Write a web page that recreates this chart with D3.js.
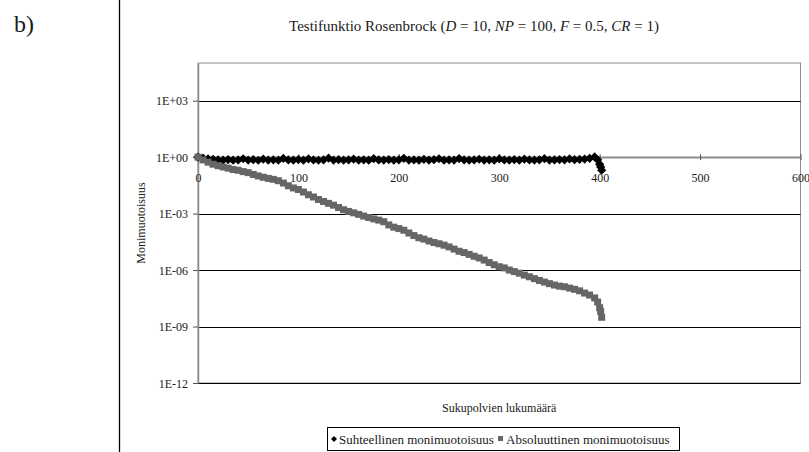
<!DOCTYPE html>
<html>
<head>
<meta charset="utf-8">
<script src="https://cdn.jsdelivr.net/npm/d3@7/dist/d3.min.js"></script>
<style>
  body { margin: 0; background: #fff; }
  svg { display: block; }
  text { font-family: "Liberation Serif", "Times New Roman", serif; fill: #1a1a1a; }
</style>
</head>
<body>
<svg id="chart" width="809" height="452"></svg>
<script>
// Generation numbers at which diversity was sampled
const generations = [
  0, 5, 10, 15, 20, 25, 30, 35, 40, 45, 50, 55, 60, 65, 70, 75, 80, 85, 90, 95,
  100, 105, 110, 115, 120, 125, 130, 135, 140, 145, 150, 155, 160, 165, 170, 175, 180, 185, 190, 195,
  200, 205, 210, 215, 220, 225, 230, 235, 240, 245, 250, 255, 260, 265, 270, 275, 280, 285, 290, 295,
  300, 305, 310, 315, 320, 325, 330, 335, 340, 345, 350, 355, 360, 365, 370, 375, 380, 385, 390, 395,
  398, 400, 401, 402
];

// Relative diversity (Suhteellinen monimuotoisuus)
const relativeDiversity = [
  1.0, 0.88, 0.80, 0.76, 0.72, 0.70, 0.74, 0.69, 0.71, 0.82, 0.70, 0.73, 0.68, 0.78, 0.70, 0.72, 0.69, 0.85, 0.71, 0.70,
  0.74, 0.69, 0.80, 0.71, 0.68, 0.72, 0.88, 0.70, 0.73, 0.69, 0.71, 0.78, 0.70, 0.72, 0.69, 0.83, 0.71, 0.70, 0.74, 0.69,
  0.72, 0.86, 0.70, 0.71, 0.69, 0.76, 0.70, 0.73, 0.82, 0.69, 0.71, 0.70, 0.84, 0.72, 0.69, 0.71, 0.77, 0.70, 0.72, 0.69,
  0.80, 0.71, 0.70, 0.73, 0.69, 0.78, 0.71, 0.70, 0.72, 0.83, 0.70, 0.71, 0.74, 0.72, 0.80, 0.73, 0.76, 0.79, 0.86, 1.02,
  0.72, 0.42, 0.30, 0.20
];

// Absolute diversity (Absoluuttinen monimuotoisuus)
const absoluteDiversity = [
  1.0, 0.71, 0.54, 0.42, 0.35, 0.30, 0.26, 0.22, 0.20, 0.17, 0.15, 0.12, 0.10, 0.085, 0.074, 0.066, 0.056, 0.042, 0.030, 0.023,
  0.019, 0.014, 0.010, 7.6e-3, 5.6e-3, 4.4e-3, 3.5e-3, 2.8e-3, 2.1e-3, 1.6e-3, 1.3e-3, 1.1e-3, 9.1e-4, 7.4e-4, 6.2e-4, 5.2e-4, 4.5e-4, 3.7e-4, 2.5e-4, 1.9e-4,
  1.6e-4, 1.3e-4, 9.3e-5, 6.8e-5, 5.2e-5, 4.4e-5, 3.5e-5, 2.9e-5, 2.5e-5, 2.1e-5, 1.7e-5, 1.3e-5, 1.0e-5, 8.5e-6, 6.8e-6, 5.4e-6, 4.4e-6, 3.4e-6, 2.5e-6, 1.9e-6,
  1.5e-6, 1.3e-6, 1.0e-6, 8.3e-7, 6.8e-7, 5.4e-7, 4.4e-7, 3.5e-7, 2.8e-7, 2.3e-7, 1.9e-7, 1.6e-7, 1.4e-7, 1.3e-7, 1.1e-7, 9.5e-8, 7.9e-8, 6.0e-8, 4.7e-8, 3.3e-8,
  2.0e-8, 1.0e-8, 6.3e-9, 3.1e-9
];

const seriesNames = ["Suhteellinen monimuotoisuus", "Absoluuttinen monimuotoisuus"];
const xTickValues = [0, 100, 200, 300, 400, 500, 600];
const yTickValues = [1e-12, 1e-9, 1e-6, 1e-3, 1e0, 1e3];
const yTickLabels = ["1E-12", "1E-09", "1E-06", "1E-03", "1E+00", "1E+03"];

const svg = d3.select("#chart");

const plot = { left: 198, right: 800.5, top: 63, bottom: 383 };

const x = d3.scaleLinear().domain([0, 600]).range([plot.left, plot.right]);
const y = d3.scaleLog().domain([1e-12, 1e5]).range([plot.bottom, plot.top]);

// Panel divider and panel letter
svg.append("line")
  .attr("x1", 119.5).attr("x2", 119.5).attr("y1", 0).attr("y2", 452)
  .attr("stroke", "#000").attr("stroke-width", 1.3);

svg.append("text")
  .attr("x", 14).attr("y", 32)
  .style("font-size", "24px")
  .text("b)");

// Title with italic parameter symbols
const title = svg.append("text")
  .attr("x", 474).attr("y", 31)
  .attr("text-anchor", "middle")
  .style("font-size", "15px");
const titleParts = [
  ["Testifunktio Rosenbrock (", false], ["D", true], [" = 10, ", false],
  ["NP", true], [" = 100, ", false], ["F", true], [" = 0.5, ", false],
  ["CR", true], [" = 1)", false]
];
titleParts.forEach(([t, it]) => {
  title.append("tspan").style("font-style", it ? "italic" : "normal").text(t);
});

// Plot frame
svg.append("rect")
  .attr("x", plot.left).attr("y", plot.top)
  .attr("width", plot.right - plot.left).attr("height", plot.bottom - plot.top)
  .attr("fill", "#fff").attr("stroke", "#8c8c8c").attr("stroke-width", 1);

// Horizontal gridlines
svg.append("g")
  .selectAll("line")
  .data(yTickValues.filter(v => v !== 1))
  .join("line")
  .attr("x1", plot.left).attr("x2", plot.right)
  .attr("y1", d => Math.round(y(d)) + 0.5).attr("y2", d => Math.round(y(d)) + 0.5)
  .attr("stroke", "#000").attr("stroke-width", 1);

// Y axis
const yAxis = svg.append("g")
  .attr("transform", `translate(${plot.left},0)`)
  .call(d3.axisLeft(y).tickValues(yTickValues)
    .tickFormat(d => yTickLabels[yTickValues.indexOf(d)])
    .tickSizeInner(5).tickSizeOuter(0));
yAxis.select(".domain").attr("stroke", "#8c8c8c").attr("stroke-width", 1.5);
yAxis.selectAll(".tick line").attr("stroke", "#555");
yAxis.selectAll(".tick text")
  .attr("x", -10).attr("dy", "0.35em")
  .style("font-size", "12px").style("font-family", "Liberation Serif, serif").attr("fill", "#1a1a1a");

// X axis crossing at 1E+00
const xAxis = svg.append("g")
  .attr("transform", `translate(0,${y(1)})`)
  .call(d3.axisBottom(x).tickValues(xTickValues).tickSizeInner(3).tickSizeOuter(0));
xAxis.select(".domain").attr("stroke", "#8c8c8c").attr("stroke-width", 2);
xAxis.selectAll(".tick line").attr("y1", -3).attr("y2", 3).attr("stroke", "#555");
xAxis.selectAll(".tick text")
  .attr("y", 25).attr("dy", 0)
  .style("font-size", "12px").style("font-family", "Liberation Serif, serif").attr("fill", "#1a1a1a");

// Series markers
const rel = generations.map((g, i) => ({ g, v: relativeDiversity[i] }));
const abs = generations.map((g, i) => ({ g, v: absoluteDiversity[i] }));

const diamond = (cx, cy, r) => `M${cx},${cy - r}L${cx + r},${cy}L${cx},${cy + r}L${cx - r},${cy}Z`;

svg.append("g")
  .selectAll("path")
  .data(rel)
  .join("path")
  .attr("d", d => diamond(x(d.g), y(d.v), 4.6))
  .attr("fill", "#000");

svg.append("g")
  .selectAll("rect")
  .data(abs)
  .join("rect")
  .attr("x", d => x(d.g) - 3.5).attr("y", d => y(d.v) - 3.5)
  .attr("width", 7).attr("height", 7)
  .attr("fill", "#666");

// Axis titles
svg.append("text")
  .attr("transform", `translate(145,${(plot.top + plot.bottom) / 2}) rotate(-90)`)
  .attr("text-anchor", "middle")
  .style("font-size", "12px")
  .text("Monimuotoisuus");

svg.append("text")
  .attr("x", (plot.left + plot.right) / 2).attr("y", 412)
  .attr("text-anchor", "middle")
  .style("font-size", "12px")
  .text("Sukupolvien lukumäärä");

// Legend
const legend = svg.append("g");
legend.append("rect")
  .attr("x", 327.5).attr("y", 427.5).attr("width", 352).attr("height", 23)
  .attr("fill", "#fff").attr("stroke", "#000").attr("stroke-width", 1);
legend.append("path").attr("d", diamond(334, 439, 3)).attr("fill", "#000");
legend.append("text").attr("x", 339).attr("y", 443.5).style("font-size", "13px").text(seriesNames[0]);
legend.append("rect").attr("x", 498).attr("y", 436).attr("width", 5).attr("height", 5).attr("fill", "#666");
legend.append("text").attr("x", 506).attr("y", 443.5).style("font-size", "13px").text(seriesNames[1]);
</script>
</body>
</html>
